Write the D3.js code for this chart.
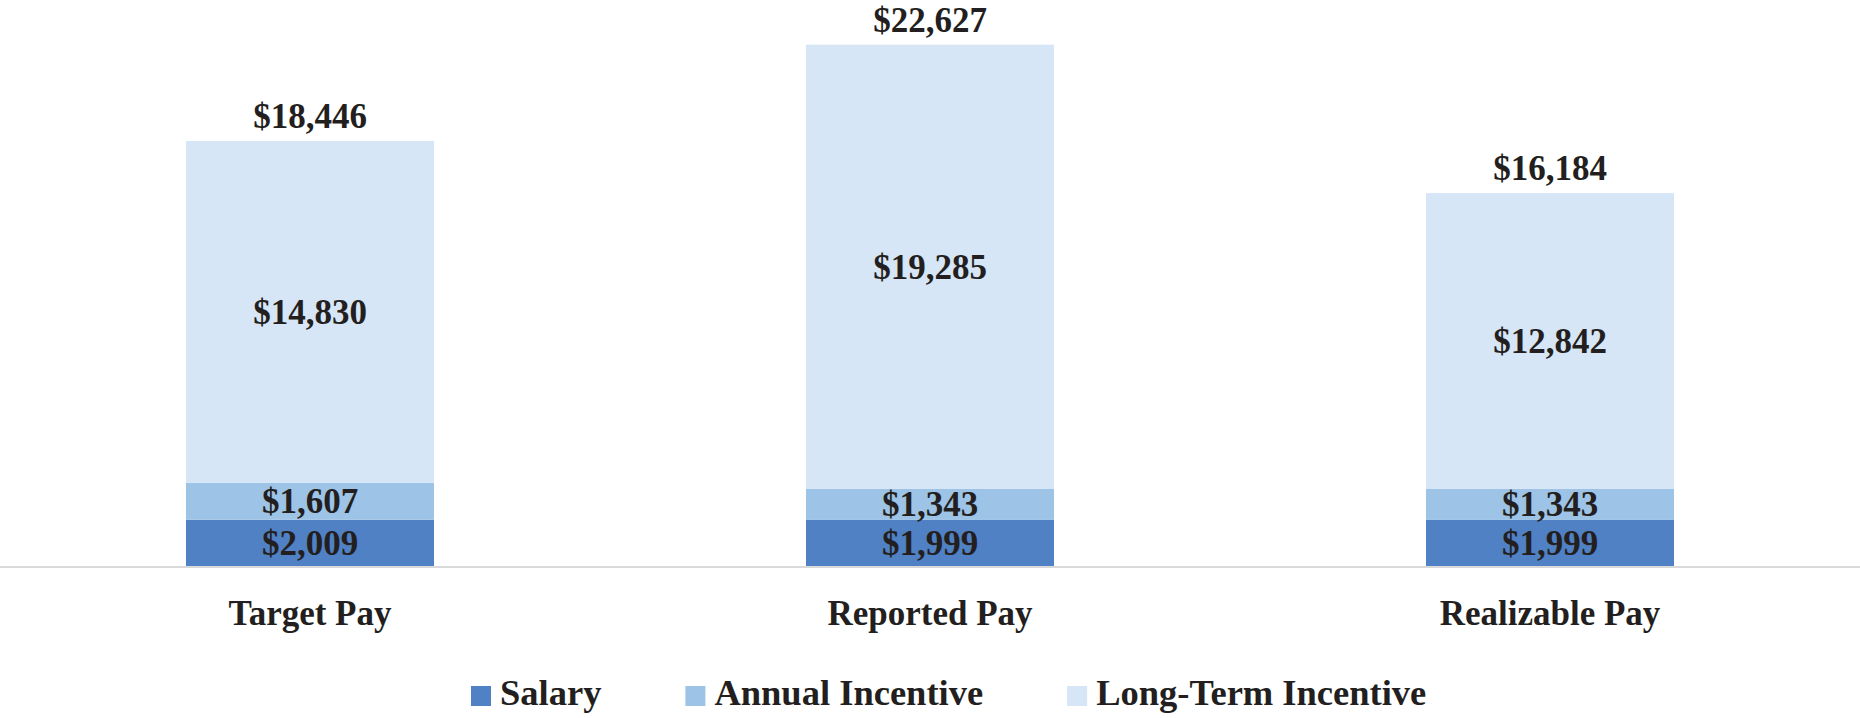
<!DOCTYPE html>
<html>
<head>
<meta charset="utf-8">
<script src="https://cdn.jsdelivr.net/npm/d3@7"></script>
<style>
  html, body { margin: 0; padding: 0; background: #ffffff; }
  svg { display: block; }
  text { font-family: "Liberation Serif", "Times New Roman", serif; font-weight: bold; fill: #231f20; }
</style>
</head>
<body>
<svg id="chart" width="1860" height="718"></svg>
<script>
const categories = ["Target Pay", "Reported Pay", "Realizable Pay"];
const seriesNames = ["Salary", "Annual Incentive", "Long-Term Incentive"];
const salary = [2009, 1999, 1999];
const annualIncentive = [1607, 1343, 1343];
const longTermIncentive = [14830, 19285, 12842];
const totals = [18446, 22627, 16184];
const colors = ["#4f81c4", "#9dc3e6", "#d6e6f6"];

const W = 1860, H = 718;
const svg = d3.select("#chart");

const rows = categories.map((c, i) => ({
  category: c,
  "Salary": salary[i],
  "Annual Incentive": annualIncentive[i],
  "Long-Term Incentive": longTermIncentive[i],
  total: totals[i]
}));

const x = d3.scaleBand().domain(categories).range([0, W]).paddingInner(0.6).paddingOuter(0.3);
const y = d3.scaleLinear().domain([0, 24000]).range([566, 13]);
const color = d3.scaleOrdinal().domain(seriesNames).range(colors);

const stacked = d3.stack().keys(seriesNames)(rows);

const fmt = v => "$" + d3.format(",")(v);

const layers = svg.append("g").selectAll("g").data(stacked).join("g")
  .attr("fill", d => color(d.key));

layers.selectAll("rect").data(d => d).join("rect")
  .attr("x", d => x(d.data.category))
  .attr("width", x.bandwidth())
  .attr("y", d => y(d[1]))
  .attr("height", d => y(d[0]) - y(d[1]));

// segment labels
const labelG = svg.append("g");
stacked.forEach(layer => {
  labelG.selectAll(null).data(layer).join("text")
    .attr("x", d => x(d.data.category) + x.bandwidth() / 2)
    .attr("y", d => (y(d[0]) + y(d[1])) / 2 + 12)
    .attr("text-anchor", "middle")
    .attr("font-size", 35)
    .text(d => fmt(d[1] - d[0]));
});

// totals
svg.append("g").selectAll("text").data(rows).join("text")
  .attr("x", d => x(d.category) + x.bandwidth() / 2)
  .attr("y", d => y(d.total) - 13)
  .attr("text-anchor", "middle")
  .attr("font-size", 35)
  .text(d => fmt(d.total));

// baseline axis
const xAxis = d3.axisBottom(x).tickSize(0).tickPadding(0);
const axisG = svg.append("g").attr("transform", `translate(0,${y(0) + 1})`).call(xAxis);
axisG.select(".domain").attr("stroke", "#d9d9d9").attr("stroke-width", 2)
  .attr("d", `M0,0H${W}`);
axisG.selectAll(".tick text")
  .attr("font-size", 35)
  .attr("font-family", "Liberation Serif, Times New Roman, serif")
  .attr("font-weight", "bold")
  .attr("fill", "#231f20")
  .attr("dy", null)
  .attr("y", 58);

// legend
const legend = svg.append("g");
let lx = 471;
seriesNames.forEach((name, i) => {
  const g = legend.append("g").attr("transform", `translate(${lx},0)`);
  g.append("rect").attr("x", 0).attr("y", 686).attr("width", 20).attr("height", 20).attr("fill", color(name));
  const t = g.append("text").attr("x", 29).attr("y", 705).attr("font-size", 36.5).text(name);
  const w = t.node().getComputedTextLength();
  lx += 29 + w + 84;
});
</script>
</body>
</html>
